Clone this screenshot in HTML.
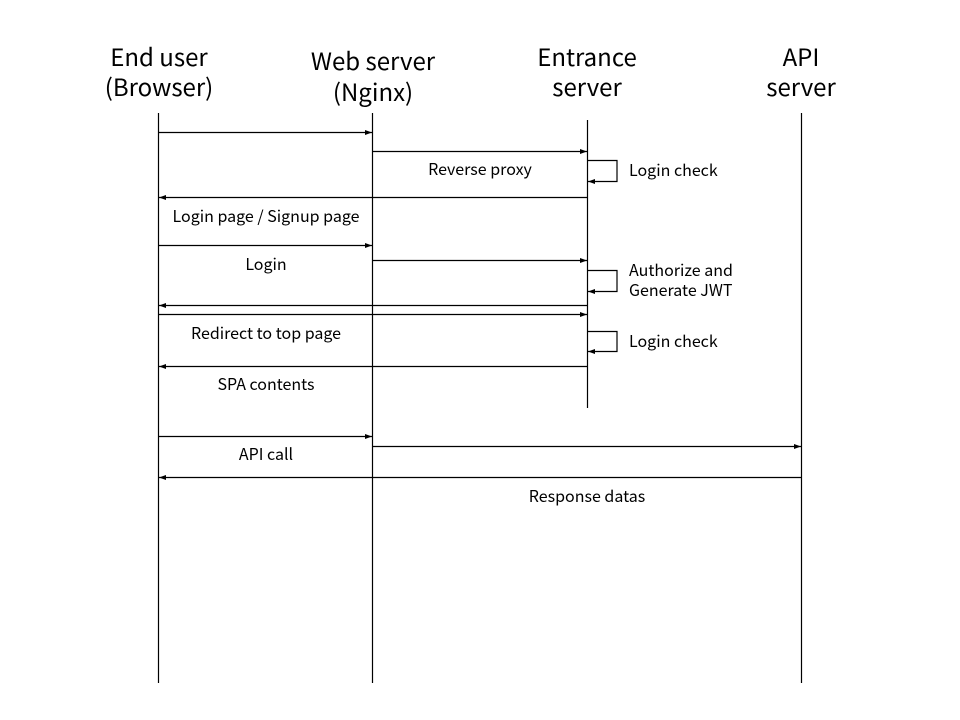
<!DOCTYPE html>
<html><head><meta charset="utf-8"><style>body{margin:0;background:#fff}svg{display:block}</style></head><body>
<svg width="960" height="720" xmlns="http://www.w3.org/2000/svg" font-family="Noto Sans CJK JP, Liberation Sans, sans-serif">
<defs><marker id="a" markerWidth="7" markerHeight="5" refX="7" refY="2.5" orient="auto" markerUnits="userSpaceOnUse"><path d="M0,0L7,2.5L0,5z" fill="#000"/></marker></defs>
<g font-size="24" text-anchor="middle" fill="#000">
<text x="159" y="66">End user</text><text x="159" y="96">(Browser)</text>
<text x="373" y="70">Web server</text><text x="373" y="101">(Nginx)</text>
<text x="587" y="66">Entrance</text><text x="587" y="96">server</text>
<text x="801" y="66">API</text><text x="801" y="96">server</text>
</g>
<g stroke="#000" stroke-width="1.2" fill="none">
<line x1="158.5" y1="113" x2="158.5" y2="683"/>
<line x1="372.5" y1="113" x2="372.5" y2="683"/>
<line x1="587.5" y1="120" x2="587.5" y2="408"/>
<line x1="801.5" y1="113" x2="801.5" y2="683"/>
</g>
<g stroke="#000" stroke-width="1.2" fill="none" marker-end="url(#a)">
<line x1="158" y1="132.5" x2="372" y2="132.5"/>
<line x1="372" y1="151.5" x2="587" y2="151.5"/>
<polyline points="587,160.5 617,160.5 617,181.5 588,181.5"/>
<line x1="587" y1="197.5" x2="159" y2="197.5"/>
<line x1="158" y1="245.5" x2="372" y2="245.5"/>
<line x1="372" y1="260.5" x2="587" y2="260.5"/>
<polyline points="587,270.5 617,270.5 617,291.5 588,291.5"/>
<line x1="587" y1="305.5" x2="159" y2="305.5"/>
<line x1="158" y1="314.5" x2="587" y2="314.5"/>
<polyline points="587,331.5 617,331.5 617,351.5 588,351.5"/>
<line x1="587" y1="366.5" x2="159" y2="366.5"/>
<line x1="158" y1="436.5" x2="372" y2="436.5"/>
<line x1="372" y1="446.5" x2="801" y2="446.5"/>
<line x1="801" y1="477.5" x2="159" y2="477.5"/>
</g>
<g font-size="16" fill="#000">
<text x="480" y="175" text-anchor="middle">Reverse proxy</text>
<text x="629" y="176">Login check</text>
<text x="266" y="222" text-anchor="middle">Login page / Signup page</text>
<text x="266" y="270" text-anchor="middle">Login</text>
<text x="629" y="276">Authorize and</text>
<text x="629" y="296">Generate JWT</text>
<text x="266" y="339" text-anchor="middle">Redirect to top page</text>
<text x="629" y="347">Login check</text>
<text x="266" y="390" text-anchor="middle">SPA contents</text>
<text x="266" y="460" text-anchor="middle">API call</text>
<text x="587" y="502" text-anchor="middle">Response datas</text>
</g>
</svg>
</body></html>
